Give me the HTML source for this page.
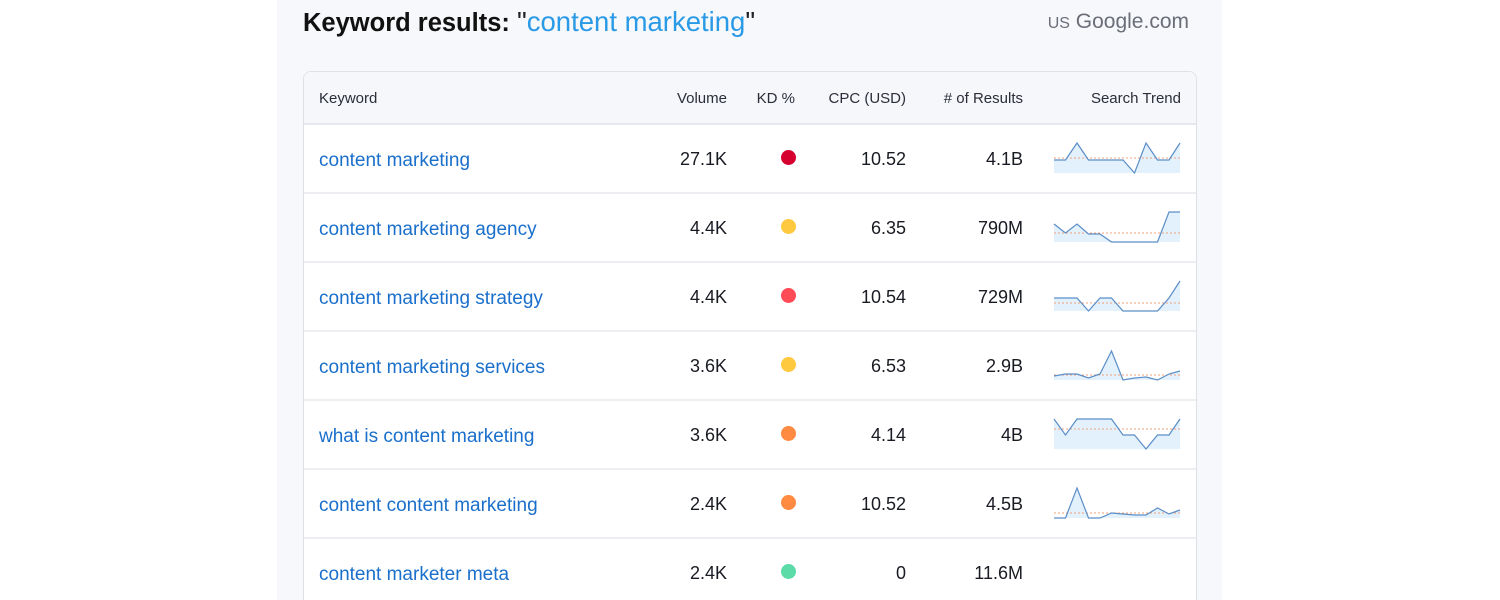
<!DOCTYPE html>
<html><head><meta charset="utf-8"><style>
*{margin:0;padding:0;box-sizing:border-box}
html,body{width:1500px;height:600px;overflow:hidden}
body{background:#fff;position:relative;font-family:"Liberation Sans",sans-serif;color:#191b23}
.panel{position:absolute;left:277px;top:0;width:945px;height:600px;background:#f7f8fc}
.t{position:absolute;white-space:nowrap}
.title{left:303px;top:6px;font-size:25.5px;font-weight:bold;color:#111}
.title span{font-weight:normal;color:#222;font-size:27.5px}
.title b{font-weight:normal;color:#2a9ae6}
.g{right:311px;top:10px;font-size:21px;color:#6b6e78}
.g small{font-size:16px}
.table{position:absolute;left:303px;top:71px;width:894px;height:529px;border:1px solid #dfe1e7;border-bottom:none;border-radius:8px 8px 0 0;background:#fff;overflow:hidden}
.head{position:absolute;left:0;top:0;width:100%;height:53px;background:#f6f7fb;border-bottom:2px solid #e6e8ee}
.row{position:absolute;left:0;width:100%;height:69px;border-bottom:2px solid #eceef2}
.h{font-size:15px;color:#2b2e38;top:18px}
.c{font-size:18px;top:24px}
.kw{left:15px;color:#1a6fcb;font-size:19px;top:25px}
.dot{position:absolute;left:477px;top:25px;width:15px;height:15px;border-radius:50%}
</style></head><body>
<div class="panel"></div>
<div class="t title">Keyword results: <span>"<b>content marketing</b>"</span></div>
<div class="t g"><small>US</small> Google.com</div>
<div class="table">
 <div class="head">
  <div class="t h" style="left:15px">Keyword</div>
  <div class="t h" style="right:469px">Volume</div>
  <div class="t h" style="right:401px">KD %</div>
  <div class="t h" style="right:290px">CPC (USD)</div>
  <div class="t h" style="right:173px">#&nbsp;of Results</div>
  <div class="t h" style="right:15px">Search Trend</div>
 </div>
 <div class="row" style="top:53px"><div class="t kw">content marketing</div><div class="t c" style="right:469px">27.1K</div><div class="dot" style="background:#d6002f"></div><div class="t c" style="right:290px">10.52</div><div class="t c" style="right:173px">4.1B</div></div>
 <div class="row" style="top:122px"><div class="t kw">content marketing agency</div><div class="t c" style="right:469px">4.4K</div><div class="dot" style="background:#ffc93f"></div><div class="t c" style="right:290px">6.35</div><div class="t c" style="right:173px">790M</div></div>
 <div class="row" style="top:191px"><div class="t kw">content marketing strategy</div><div class="t c" style="right:469px">4.4K</div><div class="dot" style="background:#ff4b55"></div><div class="t c" style="right:290px">10.54</div><div class="t c" style="right:173px">729M</div></div>
 <div class="row" style="top:260px"><div class="t kw">content marketing services</div><div class="t c" style="right:469px">3.6K</div><div class="dot" style="background:#ffc93f"></div><div class="t c" style="right:290px">6.53</div><div class="t c" style="right:173px">2.9B</div></div>
 <div class="row" style="top:329px"><div class="t kw">what is content marketing</div><div class="t c" style="right:469px">3.6K</div><div class="dot" style="background:#ff8a42"></div><div class="t c" style="right:290px">4.14</div><div class="t c" style="right:173px">4B</div></div>
 <div class="row" style="top:398px"><div class="t kw">content content marketing</div><div class="t c" style="right:469px">2.4K</div><div class="dot" style="background:#ff8a42"></div><div class="t c" style="right:290px">10.52</div><div class="t c" style="right:173px">4.5B</div></div>
 <div class="row" style="top:467px"><div class="t kw">content marketer meta</div><div class="t c" style="right:469px">2.4K</div><div class="dot" style="background:#5bdba8"></div><div class="t c" style="right:290px">0</div><div class="t c" style="right:173px">11.6M</div></div>
</div>
<svg width="1500" height="600" style="position:absolute;left:0;top:0" fill="none">
<g stroke-width="1.2">
<polygon fill="#e3f1fd" points="1054,173 1054,160 1065.5,160 1077,143 1088.5,160 1100,160 1111.5,160 1123,160 1134.5,173 1146,143 1157.5,160 1169,160 1180,143 1180,173"/>
<line x1="1054" y1="158" x2="1180" y2="158" stroke="#f0a07a" stroke-dasharray="2,2" stroke-width="1"/>
<polyline stroke="#5a8ec7" points="1054,160 1065.5,160 1077,143 1088.5,160 1100,160 1111.5,160 1123,160 1134.5,173 1146,143 1157.5,160 1169,160 1180,143"/>

<polygon fill="#e3f1fd" points="1054,242 1054,224 1065.5,233 1077,224 1088.5,234 1100,234 1111.5,242 1123,242 1134.5,242 1146,242 1157.5,242 1169,212 1180,212 1180,242"/>
<line x1="1054" y1="233" x2="1180" y2="233" stroke="#f0a07a" stroke-dasharray="2,2" stroke-width="1"/>
<polyline stroke="#5a8ec7" points="1054,224 1065.5,233 1077,224 1088.5,234 1100,234 1111.5,242 1123,242 1134.5,242 1146,242 1157.5,242 1169,212 1180,212"/>

<polygon fill="#e3f1fd" points="1054,311 1054,298 1065.5,298 1077,298 1088.5,311 1100,298 1111.5,298 1123,311 1134.5,311 1146,311 1157.5,311 1169,298 1180,281 1180,311"/>
<line x1="1054" y1="303" x2="1180" y2="303" stroke="#f0a07a" stroke-dasharray="2,2" stroke-width="1"/>
<polyline stroke="#5a8ec7" points="1054,298 1065.5,298 1077,298 1088.5,311 1100,298 1111.5,298 1123,311 1134.5,311 1146,311 1157.5,311 1169,298 1180,281"/>

<polygon fill="#e3f1fd" points="1054,380 1054,376 1065.5,374 1077,374 1088.5,378 1100,374 1111.5,351 1123,380 1134.5,378 1146,377 1157.5,380 1169,374 1180,371 1180,380"/>
<line x1="1054" y1="375" x2="1180" y2="375" stroke="#f0a07a" stroke-dasharray="2,2" stroke-width="1"/>
<polyline stroke="#5a8ec7" points="1054,376 1065.5,374 1077,374 1088.5,378 1100,374 1111.5,351 1123,380 1134.5,378 1146,377 1157.5,380 1169,374 1180,371"/>

<polygon fill="#e3f1fd" points="1054,449 1054,419 1065.5,435 1077,419 1088.5,419 1100,419 1111.5,419 1123,435 1134.5,435 1146,449 1157.5,435 1169,435 1180,419 1180,449"/>
<line x1="1054" y1="429" x2="1180" y2="429" stroke="#f0a07a" stroke-dasharray="2,2" stroke-width="1"/>
<polyline stroke="#5a8ec7" points="1054,419 1065.5,435 1077,419 1088.5,419 1100,419 1111.5,419 1123,435 1134.5,435 1146,449 1157.5,435 1169,435 1180,419"/>

<polygon fill="#e3f1fd" points="1054,518 1054,518 1065.5,518 1077,488 1088.5,518 1100,518 1111.5,513 1123,514 1134.5,515 1146,515 1157.5,508 1169,514 1180,510 1180,518"/>
<line x1="1054" y1="513" x2="1180" y2="513" stroke="#f0a07a" stroke-dasharray="2,2" stroke-width="1"/>
<polyline stroke="#5a8ec7" points="1054,518 1065.5,518 1077,488 1088.5,518 1100,518 1111.5,513 1123,514 1134.5,515 1146,515 1157.5,508 1169,514 1180,510"/>
</g>
</svg>
</body></html>
